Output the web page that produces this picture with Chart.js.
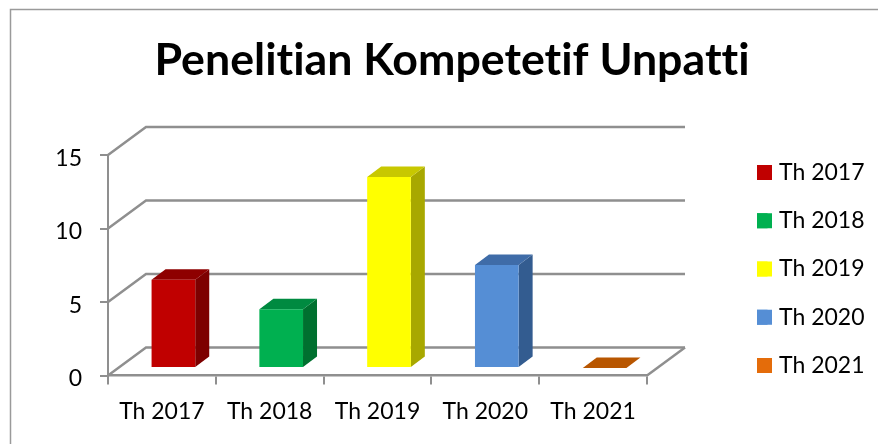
<!DOCTYPE html>
<html>
<head>
<meta charset="utf-8">
<style>
  html, body { margin: 0; padding: 0; background: #fff; }
  #wrap { width: 878px; height: 444px; }
</style>
<script src="https://cdn.jsdelivr.net/npm/chart.js@4"></script>
</head>
<body>
<div id="wrap"><canvas id="chart" width="878" height="444"></canvas></div>
<script>
var categories = ['Th 2017', 'Th 2018', 'Th 2019', 'Th 2020', 'Th 2021'];
var values = [6, 4, 13, 7, 0];
var yTicks = [0, 5, 10, 15];
var chartTitle = 'Penelitian Kompetetif Unpatti';

// colours per bar: front, top, side
var frontColors = ['#C00000', '#00B050', '#FFFF00', '#558ED5', '#E46C0A'];
var topColors = ['#8E0000', '#008A40', '#C8C800', '#3F6CA8', '#B85600'];
var sideColors = ['#7D0000', '#00702F', '#A8A800', '#335C90', '#9C4A00'];

var gridColor = '#8F8F8F';
var wallDepth = { x: 38, y: -28 };   // front plane -> back wall
var barShift = { x: 11.5, y: -7.5 }; // front plane -> bar front face
var barDepth = { x: 14, y: -10.5 };
var fontName = 'Lato, "Open Sans", sans-serif';
var labelSize = 23;
var legendPad = 25.25;
var swatch = 15;

var fake3d = {
  id: 'fake3d',
  afterLayout: function (chart) {
    // title and legend sit in their own place, not the default one
    chart.titleBlock.left = 26;
    chart.titleBlock.right = 878;
    var lg = chart.legend;
    lg.left = 757 - legendPad;
    lg.right = 878;
    lg.top = 161 - legendPad;
    lg.bottom = 420;
  },
  beforeDraw: function (chart) {
    // non zero spacing turns off the Lato "ti" ligature
    chart.ctx.letterSpacing = '0.01px';
    // digits sit a bit low against their tick in the reference
    chart.scales.y.getLabelItems().forEach(function (item) { item.textOffset = 3.5; });
  },
  beforeDatasetsDraw: function (chart) {
    var ctx = chart.ctx;
    var yScale = chart.scales.y;
    var area = chart.chartArea;

    // outer frame, only top and left are in the picture
    ctx.save();
    ctx.strokeStyle = '#9A9A9A';
    ctx.lineWidth = 1.5;
    ctx.beginPath();
    ctx.moveTo(10.5, 444);
    ctx.lineTo(10.5, 9.5);
    ctx.lineTo(878, 9.5);
    ctx.stroke();

    // grid: diagonal on the side wall, then across the back wall
    ctx.strokeStyle = gridColor;
    ctx.lineWidth = 2.5;
    yTicks.forEach(function (t) {
      var py = yScale.getPixelForValue(t);
      ctx.beginPath();
      ctx.moveTo(area.left, py);
      ctx.lineTo(area.left + wallDepth.x, py + wallDepth.y);
      ctx.lineTo(area.right + wallDepth.x, py + wallDepth.y);
      ctx.stroke();
    });
    // right edge of the floor
    var py0 = yScale.getPixelForValue(0);
    ctx.beginPath();
    ctx.moveTo(area.right, py0);
    ctx.lineTo(area.right + wallDepth.x, py0 + wallDepth.y);
    ctx.stroke();
    ctx.restore();

    // bars are moved back from the front plane, this is undone in afterDatasetsDraw
    ctx.save();
    ctx.translate(barShift.x, barShift.y);
    chart.getDatasetMeta(0).data.forEach(function (bar, i) {
      var l = bar.x - bar.width / 2;
      var r = bar.x + bar.width / 2;
      var t = bar.y;
      var b = bar.base;
      ctx.fillStyle = sideColors[i];
      ctx.beginPath();
      ctx.moveTo(r, t);
      ctx.lineTo(r + barDepth.x, t + barDepth.y);
      ctx.lineTo(r + barDepth.x, b + barDepth.y);
      ctx.lineTo(r, b);
      ctx.closePath();
      ctx.fill();
      ctx.fillStyle = topColors[i];
      ctx.beginPath();
      ctx.moveTo(l, t);
      ctx.lineTo(l + barDepth.x, t + barDepth.y);
      ctx.lineTo(r + barDepth.x, t + barDepth.y);
      ctx.lineTo(r, t);
      ctx.closePath();
      ctx.fill();
    });
  },
  afterDatasetsDraw: function (chart) {
    chart.ctx.restore();
  },
  afterDraw: function (chart) {
    // library legend puts text too far from the box, so the box is narrow there and widened here
    var ctx = chart.ctx;
    var lg = chart.legend;
    categories.forEach(function (c, i) {
      ctx.fillStyle = frontColors[i];
      ctx.fillRect(lg.left + legendPad, lg.top + legendPad + i * (labelSize + legendPad) + (labelSize - swatch) / 2, swatch, swatch);
    });
  }
};

new Chart(document.getElementById('chart').getContext('2d'), {
  type: 'bar',
  data: {
    labels: categories,
    datasets: [{
      data: values,
      backgroundColor: frontColors,
      borderWidth: 0,
      barPercentage: 0.405,
      categoryPercentage: 1,
      clip: false
    }]
  },
  options: {
    responsive: false,
    animation: false,
    layout: { padding: { left: 0, right: 231, top: 0, bottom: 0 } },
    scales: {
      x: {
        afterFit: function (s) { s.height = 68.5; },
        grid: { drawOnChartArea: false, tickLength: 9, color: gridColor, lineWidth: 2 },
        border: { color: gridColor, width: 2.5 },
        ticks: { color: '#000', font: { family: fontName, size: labelSize }, padding: 13, maxRotation: 0, autoSkip: false }
      },
      y: {
        min: 0,
        max: 15,
        afterFit: function (s) { s.width = 108; },
        grid: { drawOnChartArea: false, tickLength: 8, color: gridColor, lineWidth: 2 },
        border: { color: gridColor, width: 2 },
        ticks: { color: '#000', stepSize: 5, font: { family: fontName, size: labelSize }, padding: 18 }
      }
    },
    plugins: {
      title: {
        display: true,
        text: chartTitle,
        color: '#000',
        font: { family: fontName, size: 44.7, weight: 'bold' },
        padding: { top: 34, bottom: 67.4 }
      },
      legend: {
        position: 'chartArea',
        align: 'start',
        labels: {
          boxWidth: 10.5,
          boxHeight: swatch,
          padding: legendPad,
          color: '#000',
          font: { family: fontName, size: labelSize },
          generateLabels: function () {
            return categories.map(function (c, i) {
              return { text: c, fillStyle: frontColors[i], strokeStyle: frontColors[i], lineWidth: 0, index: i };
            });
          }
        }
      },
      tooltip: { enabled: false }
    }
  },
  plugins: [fake3d]
});
</script>
</body>
</html>
